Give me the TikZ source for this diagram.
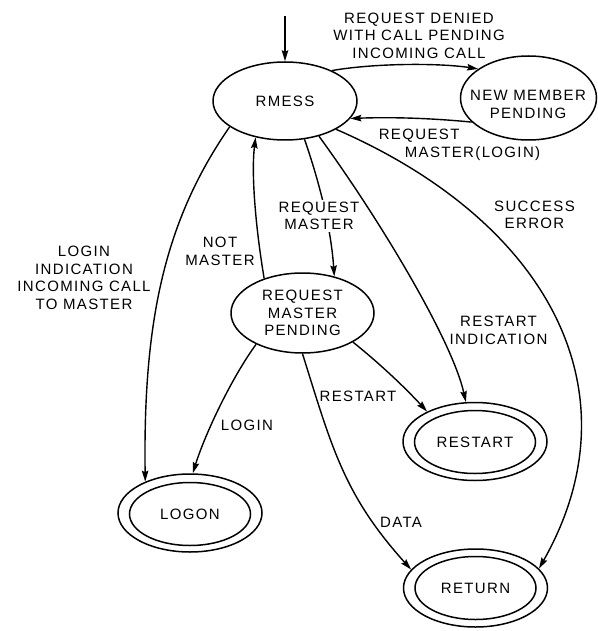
\documentclass[tikz,border=0pt]{standalone}
\usepackage{fontspec}
\setmainfont{Liberation Sans}[LetterSpace=9]
\usetikzlibrary{arrows.meta,shapes.geometric}
\begin{document}
\begin{tikzpicture}[x=1pt,y=-1pt,
  font=\fontsize{15}{17.5}\selectfont,
  stateshape/.style={ellipse, draw, line width=1.5pt, inner sep=0pt, align=center},
  outerring/.style={stateshape, minimum width=144pt, minimum height=78pt},
  innerring/.style={stateshape, minimum width=121pt, minimum height=63pt},
  lbl/.style={align=center, inner sep=0pt},
  trans/.style={line width=1.4pt, -{Stealth[length=11pt,width=6.5pt,inset=1.5pt]}}]
\useasboundingbox (0,0) rectangle (597,631);

% states
\node[stateshape, minimum width=144pt, minimum height=78pt] (rm) at (285,101) {RMESS};
\node[stateshape, minimum width=136pt, minimum height=84pt] (nm) at (528.5,98) {};
\node[lbl] (nmtext) at (528,104.5) {NEW MEMBER\\PENDING};
\node[stateshape, minimum width=143pt, minimum height=80pt] (rmp) at (302.5,313) {REQUEST\\MASTER\\PENDING};

% final states (double rings)
\node[outerring] (logon) at (190,513) {};
\node[innerring] (logonin) at (190,514) {LOGON};
\node[outerring] (restart) at (475,441.5) {};
\node[innerring] (restartin) at (475,442) {RESTART};
\node[outerring] (return) at (475.5,588) {};
\node[innerring] (returnin) at (475.5,588) {RETURN};

% entry
\coordinate (entry) at (285,16);
\draw[trans] (entry) -- (rm.north);

% transitions
\draw[trans] (rm.33) .. controls (375,63) and (440,63) .. (nm.150);
\draw[trans] (nm.203) .. controls (430,118) and (390,117) .. (rm.345);
\draw[trans] (rm.205) .. controls (165,220) and (143,320) .. (logon.145);
\draw[trans] (rmp.138) .. controls (256,230) and (251,175) .. (rm.231);
\draw[trans] (rm.297) .. controls (320,184) and (331,229) .. (rmp.49);
\draw[trans] (rm.314) .. controls (380,220) and (452,340) .. (restart.103);
\draw[trans] (rm.331) .. controls (549,222) and (639,392) .. (return.17);
\draw[trans] (rmp.214) .. controls (232,377) and (205,434) .. (logon.86);
\draw[trans] (rmp.330) .. controls (379,363) and (404,386.5) .. (restart.148);
\draw[trans] (rmp.south) .. controls (332,448) and (344,495) .. (return.164);

% transition labels
\node[lbl] (l1) at (419,35.5) {REQUEST DENIED\\WITH CALL PENDING\\INCOMING CALL};
\node[lbl, align=left] (l2) at (459.5,145) {REQUEST\\\hspace*{26pt}MASTER(LOGIN)};
\node[lbl] (l3) at (534.5,215) {SUCCESS\\ERROR};
\node[lbl] (l4) at (84,278) {LOGIN\\INDICATION\\INCOMING CALL\\TO MASTER};
\node[lbl] (l5) at (220,251.5) {NOT\\MASTER};
\node[lbl, fill=white, inner sep=1.5pt] (l6) at (319,216) {REQUEST\\MASTER};
\node[lbl] (l7) at (498.5,330.5) {RESTART\\INDICATION};
\node[lbl] (l8) at (358,396) {RESTART};
\node[lbl] (l9) at (247,425) {LOGIN};
\node[lbl] (l10) at (401,522) {DATA};
\end{tikzpicture}
\end{document}
